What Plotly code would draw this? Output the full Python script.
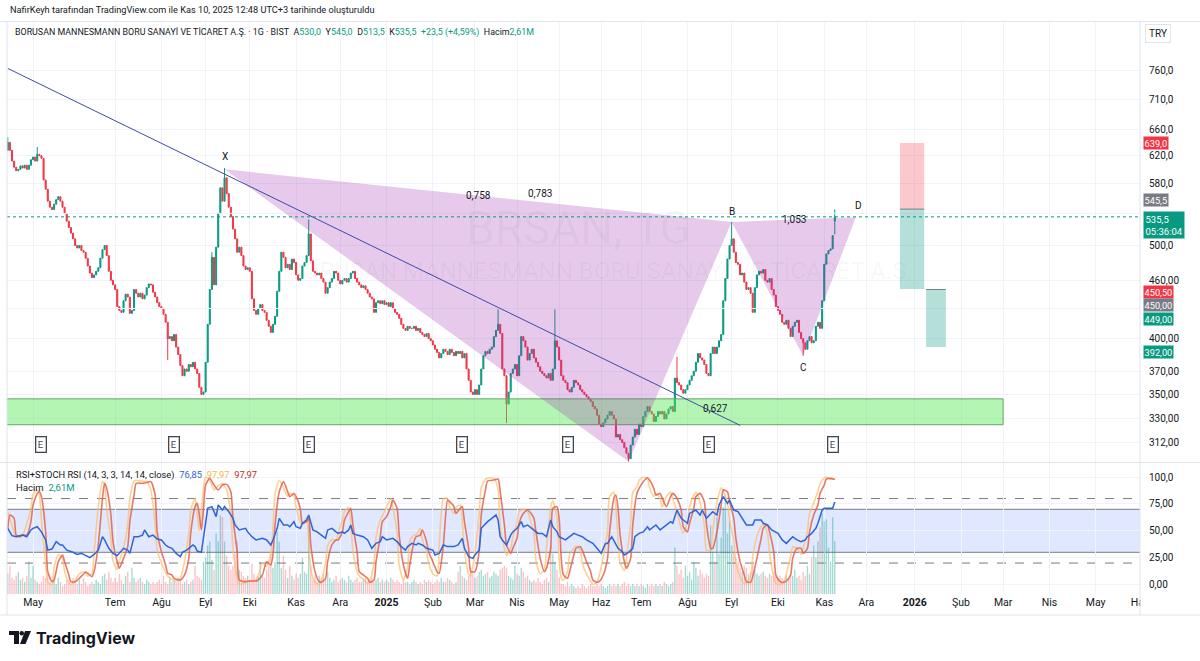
import math
import pandas as pd
import plotly.graph_objects as go

# ------------------------------------------------------------------ data
HOLIDAYS = ["2024-04-10", "2024-04-11", "2024-04-12", "2024-04-23", "2024-05-01",
            "2024-06-17", "2024-06-18", "2024-06-19", "2024-07-15", "2024-08-30",
            "2024-10-29", "2025-01-01", "2025-03-31", "2025-04-01", "2025-04-23",
            "2025-05-01", "2025-05-19", "2025-06-06", "2025-06-09", "2025-07-15",
            "2025-10-29"]
FIRST_BAR = "2024-04-09"
LAST_BAR = "2025-11-10"
FUTURE_END = "2026-07-31"

CLOSE = [
    640, 628, 612, 603, 598, 600, 605, 602, 606, 600,
    606, 614, 618, 612, 622, 620, 616, 585, 572, 556,
    548, 545, 552, 558, 562, 556, 548, 540, 530, 522,
    515, 508, 500, 497, 500, 494, 492, 485, 476, 468,
    463, 466, 470, 474, 485, 495, 500, 488, 470, 460,
    455, 450, 432, 428, 426, 438, 445, 442, 425, 428,
    450, 446, 442, 446, 440, 444, 452, 456, 455, 447,
    442, 436, 432, 430, 424, 416, 400, 402, 398, 404,
    392, 385, 375, 366, 372, 370, 376, 374, 378, 372,
    368, 356, 350, 352, 378, 414, 450, 486, 455, 498,
    540, 574, 556, 588, 566, 548, 536, 520, 508, 492,
    498, 488, 476, 472, 474, 470, 440, 428, 424, 430,
    434, 428, 426, 418, 412, 406, 414, 422, 448, 470,
    492, 486, 474, 478, 472, 484, 480, 466, 460, 462,
    476, 480, 488, 514, 482, 470, 468, 466, 468, 462,
    458, 446, 452, 458, 462, 470, 468, 460, 456, 460,
    462, 458, 462, 468, 470, 462, 458, 455, 452, 454,
    450, 446, 442, 440, 426, 436, 438, 435, 438, 434,
    436, 432, 436, 430, 426, 424, 420, 414, 410, 408,
    412, 410, 410, 412, 408, 410, 406, 404, 402, 405,
    400, 398, 394, 390, 387, 382, 386, 390, 388, 385,
    390, 387, 384, 388, 386, 388, 382, 386, 372, 362,
    352, 350, 354, 350, 358, 372, 384, 388, 386, 390,
    392, 402, 408, 414, 405, 372, 366, 342, 352, 368,
    372, 376, 366, 384, 402, 398, 392, 380, 386, 390,
    382, 378, 374, 370, 368, 366, 364, 368, 362, 372,
    398, 392, 380, 366, 362, 360, 354, 352, 356, 362,
    360, 358, 354, 352, 350, 348, 346, 344, 340, 338,
    333, 326, 324, 327, 330, 333, 336, 333, 330, 316,
    318, 314, 312, 308, 304, 300, 310, 316, 322, 318,
    326, 324, 332, 336, 340, 336, 334, 328, 332, 336,
    334, 336, 330, 334, 338, 340, 336, 364, 360, 358,
    354, 351, 354, 358, 362, 366, 370, 378, 386, 382,
    380, 376, 368, 366, 386, 392, 386, 392, 398, 404,
    438, 462, 484, 500, 508, 492, 480, 478, 466, 468,
    458, 450, 452, 446, 426, 452, 466, 470, 468, 472,
    460, 458, 462, 450, 444, 432, 428, 424, 416, 414,
    418, 410, 402, 412, 416, 418, 406, 400, 396, 390,
    398, 402, 396, 398, 412, 416, 410, 438, 478, 490,
    494, 496, 512, 535.5,
]
FIRST_OPEN = 628
OPEN_GAPS = {393: 530.0}
HIGH_WICKS = {0: 648, 14: 633, 97: 492, 103: 602, 143: 532, 233: 429, 260: 429,
              318: 383, 344: 529, 393: 545.0}
LOW_WICKS = {76: 380, 237: 327, 295: 298, 378: 384, 393: 513.5}

VOLUME_M = [
    1.0, 1.4, 0.8, 0.7, 0.9, 1.1, 0.7, 0.8, 0.6, 0.9,
    1.6, 0.8, 1.4, 0.7, 0.6, 0.5, 0.6, 0.9, 0.8, 1.0,
    0.6, 0.5, 0.7, 0.5, 0.8, 0.6, 0.4, 0.5, 0.7, 0.6,
    0.5, 0.8, 0.6, 0.5, 0.7, 0.5, 0.8, 0.6, 0.4, 0.5,
    0.6, 0.5, 0.7, 0.6, 0.5, 0.9, 1.0, 0.7, 1.1, 0.8,
    0.6, 0.8, 0.6, 1.0, 0.7, 0.5, 0.9, 1.1, 0.6, 1.3,
    0.8, 0.6, 0.7, 0.8, 0.6, 0.5, 0.7, 0.6, 0.5, 0.6,
    0.5, 0.6, 0.7, 0.5, 0.9, 0.6, 0.5, 0.8, 0.6, 0.7,
    0.6, 0.8, 0.7, 0.5, 0.6, 0.7, 0.5, 0.6, 0.7, 1.4,
    0.9, 0.8, 0.7, 1.6, 1.8, 2.4, 2.6, 1.7, 1.2, 3.0,
    2.6, 3.9, 3.8, 2.6, 1.9, 1.4, 1.2, 1.4, 2.0, 2.6,
    1.2, 1.1, 0.9, 0.8, 0.9, 0.7, 1.5, 1.0, 0.8, 0.9,
    1.6, 0.9, 0.8, 1.2, 1.4, 2.0, 1.3, 1.6, 3.1, 2.6,
    1.3, 1.9, 1.2, 0.8, 1.4, 0.9, 0.7, 1.0, 0.8, 1.0,
    1.8, 1.1, 1.0, 3.4, 1.4, 0.7, 0.9, 0.6, 0.9, 0.8,
    1.0, 0.7, 1.1, 0.8, 0.6, 0.7, 0.9, 0.6, 0.7, 0.8,
    0.7, 0.6, 0.9, 0.7, 0.6, 0.7, 0.8, 0.6, 0.6, 0.7,
    0.8, 0.6, 0.7, 0.8, 0.6, 0.7, 0.8, 0.6, 0.7, 0.6,
    0.7, 0.6, 0.8, 0.7, 0.6, 0.7, 0.6, 0.5, 0.7, 0.6,
    0.6, 0.5, 0.6, 0.7, 0.6, 0.5, 0.6, 0.5, 0.7, 0.6,
    0.7, 0.6, 0.5, 0.6, 0.7, 0.6, 0.8, 0.6, 0.6, 0.8,
    0.7, 0.6, 0.5, 0.6, 1.1, 1.4, 0.9, 0.8, 0.7, 0.9,
    1.3, 1.0, 0.8, 0.9, 1.1, 1.2, 0.9, 1.0, 1.1, 0.8,
    0.9, 1.1, 1.0, 0.9, 1.2, 1.3, 1.4, 1.3, 0.9, 0.8,
    0.7, 1.4, 1.0, 0.9, 1.3, 1.1, 0.8, 0.9, 0.7, 0.6,
    0.7, 0.6, 0.8, 0.6, 0.5, 0.7, 0.8, 0.6, 2.4, 2.0,
    1.6, 1.2, 0.8, 0.5, 0.5, 0.4, 0.6, 0.4, 0.5, 0.4,
    0.3, 0.4, 0.3, 0.5, 0.4, 0.3, 0.4, 0.5, 0.4, 0.4,
    0.5, 0.4, 0.5, 0.4, 0.3, 0.4, 0.5, 0.4, 0.5, 0.4,
    0.5, 0.4, 0.5, 0.6, 0.4, 0.5, 0.4, 0.5, 0.4, 0.5,
    0.4, 0.5, 0.4, 0.3, 0.5, 0.4, 0.5, 0.4, 0.5, 0.4,
    0.5, 0.4, 0.6, 0.5, 0.4, 0.5, 0.6, 2.3, 1.4, 1.0,
    1.2, 0.8, 1.4, 0.9, 1.1, 0.7, 1.6, 1.3, 0.9, 1.2,
    1.0, 0.8, 1.0, 0.9, 3.4, 2.1, 1.6, 3.8, 2.0, 2.8,
    4.3, 4.9, 3.0, 3.6, 2.4, 2.1, 1.8, 1.6, 1.3, 1.1,
    1.4, 1.3, 1.0, 1.1, 1.5, 1.2, 1.0, 0.9, 1.0, 1.1,
    0.9, 0.8, 1.0, 0.9, 1.1, 0.9, 0.8, 0.9, 0.8, 0.7,
    0.9, 0.8, 1.0, 0.9, 1.2, 0.8, 0.9, 0.7, 1.1, 0.9,
    1.4, 1.0, 1.8, 2.4, 1.8, 2.6, 3.3, 4.0, 3.6, 3.7,
    2.3, 1.6, 3.8, 2.61,
]

# (bar index, value) readings of the RSI (blue) line
RSI_PTS = [(0, 52.3), (2, 45.5), (4, 44.5), (7, 46), (9, 44.5), (11, 50.8), (12, 52.3), (14, 53.8),
           (16, 49), (18, 41.5), (19, 32), (21, 33), (23, 40), (25, 36.8), (26, 36.8), (28, 32),
           (31, 30), (33, 28), (35, 29), (37, 26.9), (39, 25), (41, 28), (43, 32), (45, 44.5),
           (46, 41.5), (48, 33.7), (50, 29), (52, 26.9), (53, 29), (55, 33.7), (57, 32), (58, 29),
           (60, 44.5), (62, 44.5), (64, 46), (65, 50.8), (67, 44.5), (69, 46), (71, 42.4), (73, 41.5),
           (75, 36.8), (76, 35.3), (78, 33.7), (80, 29), (82, 26), (83, 30), (85, 32), (88, 36.8),
           (89, 35.3), (90, 31.2), (92, 30), (94, 55.4), (95, 70.9), (97, 72.5), (99, 63.2), (100, 74),
           (102, 69.3), (103, 72.5), (105, 67.8), (107, 61.6), (108, 55.4), (110, 50.8), (113, 52.3),
           (114, 49), (116, 44.5), (118, 41.5), (121, 43), (123, 41.5), (125, 36.8), (126, 41.5),
           (128, 52.3), (129, 61.6), (131, 55.4), (133, 55.4), (134, 53.8), (136, 58.5), (137, 53.8),
           (139, 52.3), (140, 57), (142, 60), (143, 64.7), (145, 50.8), (147, 49), (149, 46), (151, 43),
           (152, 50.8), (154, 52.3), (156, 49), (157, 47.6), (159, 49), (160, 47.6), (162, 50.8),
           (163, 55.4), (164, 47.6), (166, 46), (169, 44.5), (171, 41.5), (173, 33.7), (175, 38.3),
           (177, 39.9), (178, 44.5), (180, 41.5), (183, 43), (185, 39.9), (187, 35.3), (189, 32),
           (190, 35.3), (192, 38.3), (194, 36.8), (195, 38.3), (197, 36.8), (199, 33.7), (202, 32),
           (203, 27.5), (205, 29), (207, 36.8), (209, 35.3), (212, 35.3), (214, 36.8), (216, 43),
           (217, 33.7), (219, 26), (221, 24.4), (222, 27.5), (224, 32), (225, 52.3), (227, 57),
           (228, 58.5), (230, 61.6), (232, 64.7), (233, 60), (234, 44.5), (235, 41.5), (237, 36.8),
           (239, 46), (240, 49), (242, 52.3), (244, 58.5), (245, 53.8), (247, 55.4), (249, 52.3),
           (252, 47.6), (254, 47.6), (256, 44.5), (258, 60), (259, 53.8), (261, 49), (262, 44.5),
           (265, 41.5), (266, 43), (269, 47.6), (271, 46), (273, 44.5), (275, 41.5), (278, 38.3),
           (280, 33.7), (282, 29), (284, 38.3), (285, 38.3), (287, 44.5), (289, 36.8), (290, 33.7),
           (292, 30.6), (293, 27.5), (295, 30), (297, 33.7), (298, 44.5), (300, 47.6), (302, 49),
           (304, 53.8), (305, 50.8), (307, 53.8), (308, 55.4), (310, 50.8), (312, 53.8), (315, 58.5),
           (316, 57), (318, 69.3), (320, 61.6), (321, 60), (323, 57), (324, 66.2), (326, 67.8),
           (327, 69.3), (329, 64.7), (330, 69.3), (332, 61.6), (334, 66.2), (335, 67.8), (337, 64.7),
           (338, 74), (340, 81.8), (342, 75.5), (343, 78.6), (345, 69.3), (347, 67.8), (349, 61.6),
           (351, 55.4), (354, 55.4), (355, 60), (358, 60), (359, 57), (361, 55.4), (363, 50.8),
           (366, 47.6), (368, 41.5), (370, 38.3), (373, 44.5), (375, 41.5), (377, 39.9), (379, 41.5),
           (380, 44.5), (382, 47.6), (384, 52.3), (385, 57), (387, 69.3), (388, 70.9), (390, 70.9),
           (392, 70.9), (393, 76.85)]

# (bar index, value) readings of the Stoch RSI %D (red) line
STOCH_D_PTS = [(0, 52), (1, 64.7), (3, 61.6), (4, 46), (6, 44.5), (7, 46), (9, 46), (11, 58.5), (12, 74),
               (14, 84.8), (15, 86.4), (16, 81.8), (18, 49), (19, 12), (21, 2.7), (22, 4.2), (24, 21.3),
               (26, 27.5), (27, 21.3), (29, 8.9), (30, 2.7), (32, 2.7), (34, 5.8), (37, 11.4), (38, 10.5),
               (40, 7.3), (41, 12), (43, 36.8), (45, 80.2), (46, 94.2), (47, 89.5), (49, 64.7), (50, 39.9),
               (52, 21.3), (53, 15.1), (55, 24.4), (57, 35.3), (58, 58.5), (60, 83.3), (61, 94.2), (64, 94.2),
               (66, 95), (68, 95.7), (70, 83.3), (71, 49), (73, 30.6), (75, 18.2), (76, 10.5), (78, 8.9),
               (79, 5.8), (82, 4.2), (84, 8.9), (86, 24.4), (87, 49), (89, 72.5), (90, 75.5), (91, 64.7),
               (92, 50.8), (93, 70.9), (94, 92.6), (96, 98.8), (98, 92.6), (100, 88), (102, 92.6), (104, 93.2),
               (106, 86.4), (107, 61.6), (109, 30.6), (110, 4.2), (113, 2.7), (115, 3.3), (118, 3.3),
               (119, 4.2), (121, 8.9), (123, 21.3), (125, 18.2), (126, 27.5), (127, 55.4), (129, 86.4),
               (131, 95.7), (133, 86.4), (134, 81.8), (136, 84.8), (137, 81.8), (139, 70.9), (140, 57),
               (142, 58.5), (143, 61.6), (144, 36.8), (146, 12), (148, 2.7), (149, 2.1), (151, 5.8),
               (152, 21.3), (154, 36.8), (156, 41.5), (157, 41.5), (159, 49), (160, 60), (162, 67.8),
               (163, 70.9), (164, 55.4), (166, 30.6), (167, 12), (169, 8.9), (171, 5.8), (172, 2.1),
               (174, 4), (175, 21.3), (177, 44.5), (178, 58.5), (180, 63.2), (182, 72.5), (183, 78.6),
               (185, 70.9), (186, 46), (188, 18.2), (190, 5.8), (191, 18.2), (193, 39.9), (194, 44.5),
               (196, 46), (197, 50.8), (199, 39.9), (200, 30.6), (202, 21.3), (204, 12), (205, 10.5),
               (207, 36.8), (209, 78.6), (210, 77.1), (212, 72.5), (213, 66.2), (215, 70.9), (216, 72.5),
               (217, 58.5), (219, 33.7), (220, 12), (222, 12), (224, 30.6), (225, 64.7), (227, 88),
               (228, 96.3), (231, 97.2), (233, 98.2), (234, 86.4), (236, 55.4), (237, 36.8), (239, 29),
               (240, 33.7), (242, 43), (243, 57), (245, 66.2), (247, 69.3), (248, 67.8), (250, 61.6),
               (251, 49), (253, 24.4), (255, 12), (256, 15.1), (258, 33.7), (259, 70.9), (261, 72.5),
               (262, 61.6), (263, 25), (264, 8.9), (266, 5.8), (267, 12), (269, 27.5), (270, 33.7),
               (272, 35.3), (273, 32), (275, 21.3), (277, 12), (278, 4.2), (280, 2.1), (281, 2.7),
               (283, 8.9), (285, 24.4), (286, 49), (288, 80.2), (289, 83.3), (290, 70.9), (291, 46),
               (293, 21.3), (294, 15.1), (296, 24.4), (297, 55.4), (299, 84.8), (300, 89.5), (302, 95.7),
               (304, 99.4), (305, 97.2), (307, 89.5), (308, 83.3), (310, 84.8), (311, 80.2), (313, 72.5),
               (315, 81.8), (316, 84.8), (318, 80.2), (320, 69.3), (321, 53.8), (323, 49), (324, 57),
               (326, 70.9), (327, 81.8), (329, 84.8), (331, 77.1), (332, 57), (334, 33.7), (335, 33.7),
               (337, 49), (339, 74), (340, 88), (342, 86.4), (343, 77.1), (345, 61.6), (346, 43),
               (348, 21.3), (350, 8.9), (351, 2.7), (353, 2.1), (354, 7.3), (356, 24.4), (358, 43),
               (359, 52.3), (361, 55.4), (362, 49), (364, 30.6), (365, 8.9), (367, 2.7), (369, 2.1),
               (370, 3.3), (372, 8.9), (373, 24.4), (375, 33.7), (377, 33.7), (378, 29), (380, 33.7),
               (381, 49), (383, 64.7), (385, 74), (386, 84.8), (388, 92.6), (389, 98.2), (391, 98.8),
               (393, 97.97)]

# (bar index, value) readings of the Stoch RSI %K (light) line
STOCH_K_PTS = [(0, 67.8), (1, 62), (3, 48), (4, 44), (6, 46), (7, 46), (9, 56), (11, 72), (12, 84),
               (14, 88), (15, 84), (16, 60), (18, 18), (19, 2), (21, 0), (22, 16), (24, 28), (26, 24),
               (27, 12), (29, 2), (30, 0), (32, 4), (34, 10), (37, 12), (38, 8), (40, 10), (41, 30),
               (43, 72), (45, 96), (46, 92), (47, 70), (49, 42), (50, 22), (52, 14), (53, 22), (55, 34),
               (57, 56), (58, 80), (60, 96), (61, 97), (64, 96), (66, 96), (68, 88), (70, 56), (71, 32),
               (73, 20), (75, 11), (76, 8), (78, 5), (79, 3), (82, 6), (84, 22), (86, 48), (87, 70),
               (89, 80), (90, 66), (91, 50), (92, 68), (93, 90), (94, 100), (96, 97), (98, 88), (100, 92),
               (102, 94), (104, 88), (106, 64), (107, 34), (109, 6), (110, 0), (113, 2), (115, 3), (118, 4),
               (119, 8), (121, 20), (123, 17), (125, 28), (126, 52), (127, 84), (129, 97), (131, 90),
               (133, 82), (134, 85), (136, 82), (137, 72), (139, 58), (140, 56), (142, 62), (143, 40),
               (144, 14), (146, 2), (148, 0), (149, 4), (151, 20), (152, 36), (154, 42), (156, 41),
               (157, 48), (159, 60), (160, 68), (162, 72), (163, 56), (164, 32), (166, 12), (167, 8),
               (169, 5), (171, 1), (172, 3), (174, 20), (175, 44), (177, 60), (178, 64), (180, 72),
               (182, 80), (183, 72), (185, 48), (186, 18), (188, 4), (190, 16), (191, 40), (193, 46),
               (194, 46), (196, 52), (197, 42), (199, 30), (200, 20), (202, 10), (204, 8), (205, 36),
               (207, 80), (209, 80), (210, 72), (212, 66), (213, 72), (215, 74), (216, 58), (217, 32),
               (219, 10), (220, 8), (222, 30), (224, 66), (225, 90), (227, 98), (228, 99), (231, 99),
               (233, 88), (234, 54), (236, 34), (237, 27), (239, 34), (240, 44), (242, 58), (243, 68),
               (245, 70), (247, 68), (248, 62), (250, 48), (251, 22), (253, 10), (255, 14), (256, 34),
               (258, 72), (259, 78), (261, 62), (262, 24), (263, 6), (264, 4), (266, 12), (267, 28),
               (269, 34), (270, 36), (272, 32), (273, 20), (275, 10), (277, 3), (278, 0), (280, 2),
               (281, 8), (283, 26), (285, 50), (286, 82), (288, 86), (289, 70), (290, 44), (291, 20),
               (293, 13), (294, 25), (296, 57), (297, 86), (299, 91), (300, 97), (302, 100), (304, 98),
               (305, 90), (307, 82), (308, 85), (310, 80), (311, 72), (313, 82), (315, 86), (316, 80),
               (318, 68), (320, 52), (321, 48), (323, 58), (324, 72), (326, 83), (327, 86), (329, 76),
               (331, 55), (332, 32), (334, 32), (335, 50), (337, 76), (339, 90), (340, 87), (342, 76),
               (343, 60), (345, 41), (346, 20), (348, 7), (350, 1), (351, 1), (353, 8), (354, 26),
               (356, 45), (358, 54), (359, 56), (361, 48), (362, 29), (364, 7), (365, 1), (367, 0),
               (369, 3), (370, 10), (372, 26), (373, 35), (375, 34), (377, 28), (378, 34), (380, 50),
               (381, 66), (383, 76), (385, 87), (386, 94), (388, 99), (389, 100), (391, 98), (393, 97.97)]

PRICE_TICKS = [312, 330, 350, 370, 400, 460, 500, 580, 620, 660, 710, 760]
PRICE_TICK_TEXT = ["312,00", "330,00", "350,00", "370,00", "400,00", "460,00",
                   "500,0", "580,0", "620,0", "660,0", "710,0", "760,0"]
HIDDEN_GRID_PRICES = [430, 540]   # grid levels whose tick labels sit under the price tags
RSI_TICKS = [0, 25, 50, 75, 100]
RSI_TICK_TEXT = ["0,00", "25,00", "50,00", "75,00", "100,0"]
MONTH_TICKS = ["2024-05-02", "2024-07-01", "2024-08-01", "2024-09-02", "2024-10-01", "2024-11-01",
               "2024-12-02", "2025-01-02", "2025-02-03", "2025-03-03", "2025-04-02", "2025-05-02",
               "2025-06-02", "2025-07-01", "2025-08-01", "2025-09-01", "2025-10-01", "2025-11-03",
               "2025-12-01", "2026-01-01", "2026-02-02", "2026-03-02", "2026-04-01", "2026-05-01",
               "2026-06-01"]
MONTH_TEXT = ["May", "Tem", "Ağu", "Eyl", "Eki", "Kas", "Ara", "<b>2025</b>", "Şub", "Mar", "Nis",
              "May", "Haz", "Tem", "Ağu", "Eyl", "Eki", "Kas", "Ara", "<b>2026</b>", "Şub", "Mar",
              "Nis", "May", "Haz"]

EARNINGS_BARS = [16, 79, 143, 216, 266, 333, 392]

PATTERN_NAMES = ["X", "A", "B", "C", "D"]
PATTERN_BARS = [103, 295, 344, 378, 403]
PATTERN_PRICES = [600, 298, 529, 384, 535]
RATIO_PAIRS = [(0, 2), (0, 4), (1, 3), (2, 4)]
RATIO_TEXT = ["0,758", "0,783", "0,627", "1,053"]

TREND_BARS = [0, 348]
TREND_PRICES = [764, 325]

ZONE_START = "2024-03-25"
ZONE_END_BAR = 473
ZONE_LOW, ZONE_HIGH = 325.5, 346.3

SHORT1 = dict(start=424, end=435.5, stop=639.0, entry=545.5, target=450.5)
SHORT2 = dict(start=436.4, end=445.8, stop=450.5, entry=450.0, target=392.0)

LAST_PRICE = 535.5
VIEW_BARS = (-0.38, 538.05)

# ------------------------------------------------------------------ calendar
hol = set(pd.to_datetime(HOLIDAYS))
DATES = [d for d in pd.bdate_range(FIRST_BAR, LAST_BAR) if d not in hol]
if len(DATES) != len(CLOSE):
    raise SystemExit(f"bars {len(DATES)} vs closes {len(CLOSE)}")
CAL = DATES + list(pd.bdate_range(pd.Timestamp(LAST_BAR) + pd.Timedelta(days=1), FUTURE_END))


def bar_x(i):
    base = math.floor(i)
    if base < 0:
        return CAL[0] + pd.Timedelta(days=i)
    return CAL[base] + pd.Timedelta(days=i - base)


OPEN = [FIRST_OPEN] + CLOSE[:-1]
for k, v in OPEN_GAPS.items():
    OPEN[k] = v
HIGH = [max(o, c, HIGH_WICKS.get(i, 0)) for i, (o, c) in enumerate(zip(OPEN, CLOSE))]
LOW = [min(o, c, LOW_WICKS.get(i, 1e9)) for i, (o, c) in enumerate(zip(OPEN, CLOSE))]

UP = "#089981"
DOWN = "#f23645"
GRID = "#f0f3fa"
TXT = "#131722"

fig = go.Figure()
xr = [bar_x(VIEW_BARS[0]), bar_x(VIEW_BARS[1])]

# extra horizontal grid levels
for gp in HIDDEN_GRID_PRICES:
    fig.add_trace(go.Scatter(x=xr, y=[gp, gp], mode="lines", line=dict(color=GRID, width=1),
                             xaxis="x", yaxis="y"))

# green support zone
z0, z1 = pd.Timestamp(ZONE_START), bar_x(ZONE_END_BAR)
fig.add_trace(go.Scatter(x=[z0, z1, z1, z0, z0], y=[ZONE_LOW, ZONE_LOW, ZONE_HIGH, ZONE_HIGH, ZONE_LOW],
                         mode="lines", fill="toself", fillcolor="rgba(76,230,76,0.42)",
                         line=dict(color="#63a763", width=1), xaxis="x", yaxis="y"))

# XABCD pattern fills
px_ = [bar_x(b) for b in PATTERN_BARS]
for tri in ([0, 1, 2, 0], [2, 3, 4, 2]):
    fig.add_trace(go.Scatter(x=[px_[t] for t in tri], y=[PATTERN_PRICES[t] for t in tri],
                             mode="lines", fill="toself", fillcolor="rgba(156,39,176,0.25)",
                             line=dict(width=0, color="rgba(0,0,0,0)"), xaxis="x", yaxis="y"))


# position boxes
def box(x0, x1, y0, y1, color):
    a, b = bar_x(x0), bar_x(x1)
    fig.add_trace(go.Scatter(x=[a, b, b, a, a], y=[y0, y0, y1, y1, y0], mode="lines", fill="toself",
                             fillcolor=color, line=dict(width=0, color="rgba(0,0,0,0)"),
                             xaxis="x", yaxis="y"))


for s in (SHORT1, SHORT2):
    box(s["start"], s["end"], s["entry"], s["stop"], "rgba(242,54,69,0.27)")
    box(s["start"], s["end"], s["target"], s["entry"], "rgba(8,153,129,0.30)")
    fig.add_trace(go.Scatter(x=[bar_x(s["start"]), bar_x(s["end"])], y=[s["entry"], s["entry"]],
                             mode="lines", line=dict(color="#787b86", width=1), xaxis="x", yaxis="y"))

# candles
fig.add_trace(go.Candlestick(x=DATES, open=OPEN, high=HIGH, low=LOW, close=CLOSE,
                             increasing=dict(line=dict(color=UP, width=1), fillcolor=UP),
                             decreasing=dict(line=dict(color=DOWN, width=1), fillcolor=DOWN),
                             whiskerwidth=0, xaxis="x", yaxis="y", hoverinfo="skip"))

# trend line
fig.add_trace(go.Scatter(x=[bar_x(b) for b in TREND_BARS], y=TREND_PRICES, mode="lines",
                         line=dict(color="#3f4aa8", width=1), xaxis="x", yaxis="y"))

# last price dotted line
fig.add_trace(go.Scatter(x=xr, y=[LAST_PRICE, LAST_PRICE],
                         mode="lines", line=dict(color=UP, width=1, dash="dot"), xaxis="x", yaxis="y"))

# volume (lower pane, own hidden scale)
vcol = ["rgba(8,153,129,0.36)" if c >= o else "rgba(242,54,69,0.30)" for o, c in zip(OPEN, CLOSE)]
fig.add_trace(go.Bar(x=DATES, y=VOLUME_M, marker=dict(color=vcol, line=dict(width=0)),
                     xaxis="x2", yaxis="y3"))


# RSI / Stoch RSI
def pts(p):
    return [CAL[i] for i, _ in p], [v for _, v in p]


kx, ky = pts(STOCH_K_PTS)
dx, dy = pts(STOCH_D_PTS)
rx, ry = pts(RSI_PTS)
fig.add_trace(go.Scatter(x=kx, y=ky, mode="lines", line=dict(color="rgba(255,190,100,0.7)", width=1.6,
                         shape="spline", smoothing=0.6), xaxis="x2", yaxis="y2"))
fig.add_trace(go.Scatter(x=dx, y=dy, mode="lines", line=dict(color="rgba(226,96,80,0.85)", width=1.6,
                         shape="spline", smoothing=0.6), xaxis="x2", yaxis="y2"))
fig.add_trace(go.Scatter(x=rx, y=ry, mode="lines", line=dict(color="#2f63d8", width=1.5),
                         xaxis="x2", yaxis="y2"))

# ------------------------------------------------------------------ layout
RB = [dict(bounds=["sat", "mon"]), dict(values=HOLIDAYS, dvalue=86400000)]
W, H = 1200, 661
ML, MR, MT, MB = 7, 60, 22, 67
PW, PH = W - ML - MR, H - MT - MB


def paper_x(px):
    return (px - ML) / PW


def paper_y(py):
    return (H - MB - py) / PH


FONT = "Roboto, 'Noto Sans', 'DejaVu Sans', sans-serif"
fig.update_layout(
    width=W, height=H, margin=dict(l=ML, r=MR, t=MT, b=MB),
    paper_bgcolor="white", plot_bgcolor="white", showlegend=False, hovermode=False,
    font=dict(family=FONT, size=10, color=TXT), bargap=0.35,
    xaxis=dict(domain=[0, 1], anchor="y", type="date", range=xr, rangebreaks=RB,
               rangeslider=dict(visible=False), tickvals=MONTH_TICKS, showticklabels=False,
               showgrid=True, gridcolor=GRID, zeroline=False, showline=False, ticks=""),
    xaxis2=dict(domain=[0, 1], anchor="y3", type="date", matches="x", range=xr, rangebreaks=RB,
                tickvals=MONTH_TICKS, ticktext=MONTH_TEXT, showgrid=True, gridcolor=GRID,
                zeroline=False, showline=False, ticks="", tickfont=dict(size=10.5, color=TXT)),
    yaxis=dict(domain=[paper_y(462), 1], anchor="x", type="log",
               range=[math.log10(297.7), math.log10(853.9)], side="right",
               tickvals=PRICE_TICKS, ticktext=PRICE_TICK_TEXT, showgrid=True, gridcolor=GRID,
               zeroline=False, ticks="", tickfont=dict(size=10, color=TXT), ticklabelstandoff=8),
    yaxis3=dict(domain=[0, paper_y(463)], anchor="x2", range=[0, 6.49], visible=False,
                showgrid=False, zeroline=False),
    yaxis2=dict(anchor="x2", overlaying="y3", range=[-8.79, 113.07], side="right",
                tickvals=RSI_TICKS, ticktext=RSI_TICK_TEXT, showgrid=True, gridcolor=GRID,
                zeroline=False, ticks="", tickfont=dict(size=10, color=TXT), ticklabelstandoff=8),
)

shapes = []
# RSI band
shapes.append(dict(type="rect", xref="paper", yref="y2", x0=0, x1=1, y0=30, y1=70,
                   fillcolor="rgba(41,98,255,0.15)", line=dict(width=0), layer="below"))
for lvl, dash in ((70, "solid"), (30, "solid"), (80, "dash"), (20, "dash")):
    shapes.append(dict(type="line", xref="paper", yref="y2", x0=0, x1=1, y0=lvl, y1=lvl,
                       line=dict(color="#787b86", width=1, dash=dash), layer="below"))
# frame lines
BORDER = "#e0e3eb"
shapes.append(dict(type="line", xref="paper", yref="paper", x0=paper_x(0), x1=paper_x(W),
                   y0=paper_y(462.5), y1=paper_y(462.5), line=dict(color=BORDER, width=1)))
shapes.append(dict(type="line", xref="paper", yref="paper", x0=paper_x(0), x1=paper_x(W),
                   y0=paper_y(21.5), y1=paper_y(21.5), line=dict(color=BORDER, width=1)))
shapes.append(dict(type="line", xref="paper", yref="paper", x0=paper_x(0), x1=paper_x(W),
                   y0=paper_y(615), y1=paper_y(615), line=dict(color=BORDER, width=1)))
shapes.append(dict(type="rect", xref="paper", yref="paper", x0=paper_x(1140.5), x1=paper_x(1199),
                   y0=paper_y(596), y1=paper_y(614), fillcolor="white", line=dict(width=0),
                   layer="above"))
for xpix in (7, 1140):
    shapes.append(dict(type="line", xref="paper", yref="paper", x0=paper_x(xpix), x1=paper_x(xpix),
                       y0=paper_y(21.5), y1=paper_y(615), line=dict(color=BORDER, width=1)))
# TradingView logo glyph
LOGO = "#131722"
shapes.append(dict(type="rect", xref="paper", yref="paper", x0=paper_x(9), x1=paper_x(19),
                   y0=paper_y(635), y1=paper_y(631), fillcolor=LOGO, line=dict(width=0)))
shapes.append(dict(type="rect", xref="paper", yref="paper", x0=paper_x(14), x1=paper_x(19),
                   y0=paper_y(644), y1=paper_y(631), fillcolor=LOGO, line=dict(width=0)))
shapes.append(dict(type="circle", xref="paper", yref="paper", x0=paper_x(19.5), x1=paper_x(24),
                   y0=paper_y(635.5), y1=paper_y(631), fillcolor=LOGO, line=dict(width=0)))
shapes.append(dict(type="path", xref="paper", yref="paper",
                   path=(f"M {paper_x(25)},{paper_y(631)} L {paper_x(31)},{paper_y(631)} "
                         f"L {paper_x(25.5)},{paper_y(644)} L {paper_x(20)},{paper_y(644)} Z"),
                   fillcolor=LOGO, line=dict(width=0)))
fig.update_layout(shapes=shapes)

ann = []
# header lines
ann.append(dict(xref="paper", yref="paper", x=paper_x(8), y=paper_y(10), xanchor="left",
                yanchor="middle", showarrow=False, font=dict(size=9.2, color=TXT),
                text="NafirKeyh tarafından TradingView.com ile Kas 10, 2025 12:48 UTC+3 tarihinde oluşturuldu"))
g = f"<span style='color:{UP}'>"
legend = ("BORUSAN MANNESMANN BORU SANAYİ VE TİCARET A.Ş. · 1G · BIST\u2002"
          f"A{g}530,0</span>\u2002Y{g}545,0</span>\u2002D{g}513,5</span>\u2002K{g}535,5</span>"
          f"\u2002{g}+23,5 (+4,59%)</span>\u2002Hacim{g}2,61M</span>")
ann.append(dict(xref="paper", yref="paper", x=paper_x(13), y=paper_y(32), xanchor="left",
                yanchor="middle", showarrow=False, font=dict(size=8.9, color=TXT), text=legend))
ann.append(dict(xref="paper", yref="paper", x=paper_x(14), y=paper_y(475), xanchor="left",
                yanchor="middle", showarrow=False, font=dict(size=9.3, color=TXT),
                text=("RSI+STOCH RSI (14, 3, 3, 14, 14, close)\u2002<span style='color:#2f63d8'>76,85</span>"
                      "\u2002<span style='color:#f5b942'>97,97</span>\u2002<span style='color:#c62828'>97,97</span>")))
ann.append(dict(xref="paper", yref="paper", x=paper_x(14), y=paper_y(487), xanchor="left",
                yanchor="middle", showarrow=False, font=dict(size=9.5, color=TXT),
                text=f"Hacim\u2002{g}2,61M</span>"))
# watermark
ann.append(dict(xref="paper", yref="paper", x=paper_x(578), y=paper_y(228), showarrow=False,
                font=dict(size=46, color="rgba(19,23,34,0.035)"), text="BRSAN, 1G"))
ann.append(dict(xref="paper", yref="paper", x=paper_x(600), y=paper_y(271), showarrow=False,
                font=dict(size=24, color="rgba(19,23,34,0.035)"),
                text="BORUSAN MANNESMANN BORU SANAYİ VE TİCARET A.Ş."))
# TRY box
ann.append(dict(xref="paper", yref="paper", x=1, xshift=5, y=paper_y(33.5), xanchor="left",
                yanchor="middle", showarrow=False, text="TRY", font=dict(size=10, color=TXT),
                bgcolor="white", bordercolor=BORDER, borderwidth=1, borderpad=3))
# earnings markers
for b in EARNINGS_BARS:
    ann.append(dict(xref="x", yref="paper", x=CAL[b], y=paper_y(453), showarrow=False, text="E",
                    font=dict(size=9.5, color="#434651"), bgcolor="white", bordercolor="#434651",
                    borderwidth=1.3, borderpad=1.5))
# pattern point labels
shift = {"X": 13, "B": 10, "C": -12, "D": 12}
for name, b, p in zip(PATTERN_NAMES, PATTERN_BARS, PATTERN_PRICES):
    if name not in shift:
        continue
    ann.append(dict(xref="x", yref="y", x=bar_x(b), y=math.log10(p), yshift=shift[name],
                    xshift=3 if name == "D" else 0, showarrow=False, text=name,
                    font=dict(size=10, color=TXT)))
for (a, b), t in zip(RATIO_PAIRS, RATIO_TEXT):
    mb = (PATTERN_BARS[a] + PATTERN_BARS[b]) / 2
    mp = math.sqrt(PATTERN_PRICES[a] * PATTERN_PRICES[b])
    ann.append(dict(xref="x", yref="y", x=bar_x(mb), y=math.log10(mp), showarrow=False, text=t,
                    font=dict(size=10, color=TXT)))
# price scale labels
GREY = "#787b86"
for val, txt, col, ysh in ((639.0, "639,0", DOWN, 0), (545.5, "545,5", GREY, 9),
                           (450.5, "450,50", DOWN, -2.7), (450.0, "450,00", GREY, -15.8),
                           (449.0, "449,00", UP, -28.8), (392.0, "392,00", UP, -4.5)):
    ann.append(dict(xref="paper", yref="y", x=1, xshift=3, y=math.log10(val), yshift=ysh,
                    xanchor="left", yanchor="middle", showarrow=False, text=txt,
                    font=dict(size=9.2, color="white"), bgcolor=col, borderpad=0.6))
ann.append(dict(xref="paper", yref="y", x=1, xshift=3, y=math.log10(LAST_PRICE), yshift=5.5,
                xanchor="left", yanchor="top", showarrow=False, align="left",
                text="535,5<br>05:36:04", font=dict(size=9.5, color="white"), bgcolor=UP, borderpad=1.5))
# footer brand
ann.append(dict(xref="paper", yref="paper", x=paper_x(34), y=paper_y(637.5), xanchor="left",
                yanchor="middle", showarrow=False, text="<b>TradingView</b>",
                font=dict(size=16, color=TXT, family="Inter, Roboto, sans-serif")))
fig.update_layout(annotations=ann)

fig.write_html("out.html", config={"displayModeBar": False},
               post_script="document.body.style.margin='0';")
